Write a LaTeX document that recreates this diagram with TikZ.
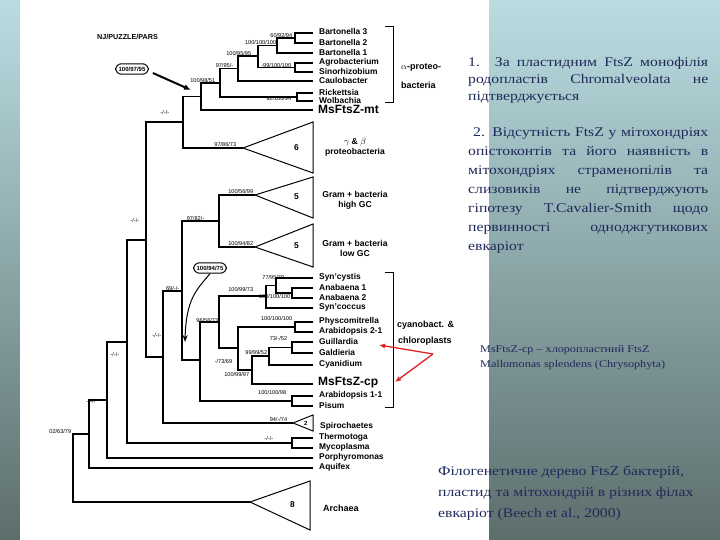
\documentclass[tikz,border=0pt]{standalone}
\usepackage{fontspec}
\setmainfont{Liberation Serif}[FakeStretch=1.18]
\setsansfont{Liberation Sans}
\usetikzlibrary{arrows.meta}
\definecolor{bgtop}{HTML}{BADDE2}
\definecolor{bgbot}{HTML}{5C6E6C}
\definecolor{navy}{HTML}{1F2A5A}
\definecolor{arred}{HTML}{E02020}
\newcommand{\fl}[1]{\makebox[240pt][s]{#1}}
\begin{document}
\begin{tikzpicture}[x=1pt,y=-1pt,
  br/.style={line width=1.3pt,black},
  lf/.style={font=\sffamily\bfseries\fontsize{8.4}{9}\selectfont,anchor=west,inner sep=0pt},
  gl/.style={font=\sffamily\bfseries\fontsize{8.6}{10}\selectfont,anchor=center,align=center,inner sep=0pt},
  sv/.style={font=\sffamily\fontsize{5.6}{6}\selectfont,inner sep=0.6pt,anchor=south east},
  tx/.style={text=navy,font=\fontsize{13.3}{17}\selectfont,anchor=north west,inner sep=0pt,align=left},
  oval/.style={draw,line width=1pt,rounded corners=6pt,font=\sffamily\bfseries\fontsize{6}{6}\selectfont,inner sep=3pt}]
\useasboundingbox (0,0) rectangle (720,540);
\shade[top color=bgtop,bottom color=bgbot] (0,0) rectangle (720,540);
\fill[white] (20,0) rectangle (489,540);
% ---------- internal nodes
\coordinate (root) at (73,468);
\coordinate (n89) at (89,434);
\coordinate (n107) at (107,400);
\coordinate (n127) at (127,342);
\coordinate (n146) at (146,240);
\coordinate (n183) at (183,122);
\coordinate (n201) at (201,96.5);
\coordinate (n220) at (220,83);
\coordinate (n238) at (238,68.5);
\coordinate (n258) at (258,56);
\coordinate (n277) at (277,45.5);
\coordinate (n295a) at (295,38);
\coordinate (n295b) at (295,67.5);
\coordinate (n297) at (297,97);
\coordinate (n163) at (163,357);
\coordinate (n182) at (182,291);
\coordinate (n219g) at (219,221);
\coordinate (n200) at (200,360);
\coordinate (n219c) at (219,322);
\coordinate (n266) at (266,296);
\coordinate (n276) at (276,285.5);
\coordinate (n292s) at (292,293);
\coordinate (n238c) at (238,348);
\coordinate (n295p) at (295,327);
\coordinate (n252) at (252,370);
\coordinate (n269) at (269,356);
\coordinate (n292g) at (292,347.5);
\coordinate (n292a) at (292,401);
\coordinate (n292t) at (292,443);
% apices
\coordinate (t6) at (243,148);
\coordinate (t5a) at (255,195);
\coordinate (t5b) at (255,247);
\coordinate (t2) at (293,423);
\coordinate (t8) at (250,502);
% leaves
\foreach \n/\y in {bart3/33,bart2/43,bart1/53,agro/63,sino/72,caulo/81,rick/93,wolb/101,msmt/110,
  syncy/278,anab1/288,anab2/298,synco/308,phys/322,arab21/332,guil/342,gald/353,cyan/365,mscp/384,
  arab11/396,pisum/406,thermo/438,myco/448,porph/458,aqui/468}
  \coordinate (\n) at (313,\y);
% ---------- branches
\draw[br] (root) |- (n89); \draw[br] (root) |- (t8);
\draw[br] (n89) |- (n107); \draw[br] (n89) |- (aqui);
\draw[br] (n107) |- (n127); \draw[br] (n107) |- (porph);
\draw[br] (n127) |- (n146); \draw[br] (n127) |- (n292t);
\draw[br] (n292t) |- (thermo); \draw[br] (n292t) |- (myco);
\draw[br] (n146) |- (n183); \draw[br] (n146) |- (n163);
\draw[br] (n183) |- (n201); \draw[br] (n183) |- (t6);
\draw[br] (n201) |- (n220); \draw[br] (n201) |- (msmt);
\draw[br] (n220) |- (n238); \draw[br] (n220) |- (n297);
\draw[br] (n297) |- (rick); \draw[br] (n297) |- (wolb);
\draw[br] (n238) |- (n258); \draw[br] (n238) |- (caulo);
\draw[br] (n258) |- (n277); \draw[br] (n258) |- (n295b);
\draw[br] (n295b) |- (agro); \draw[br] (n295b) |- (sino);
\draw[br] (n277) |- (n295a); \draw[br] (n277) |- (bart1);
\draw[br] (n295a) |- (bart3); \draw[br] (n295a) |- (bart2);
\draw[br] (n163) |- (n182); \draw[br] (n163) |- (t2);
\draw[br] (n182) |- (n219g); \draw[br] (n182) |- (n200);
\draw[br] (n219g) |- (t5a); \draw[br] (n219g) |- (t5b);
\draw[br] (n200) |- (n219c); \draw[br] (n200) |- (n292a);
\draw[br] (n292a) |- (arab11); \draw[br] (n292a) |- (pisum);
\draw[br] (n219c) |- (n266); \draw[br] (n219c) |- (n238c);
\draw[br] (n266) |- (n276); \draw[br] (n266) |- (synco);
\draw[br] (n276) |- (syncy); \draw[br] (n276) |- (n292s);
\draw[br] (n292s) |- (anab1); \draw[br] (n292s) |- (anab2);
\draw[br] (n238c) |- (n295p); \draw[br] (n238c) |- (n252);
\draw[br] (n295p) |- (phys); \draw[br] (n295p) |- (arab21);
\draw[br] (n252) |- (n269); \draw[br] (n252) |- (mscp);
\draw[br] (n269) |- (n292g); \draw[br] (n269) |- (cyan);
\draw[br] (n292g) |- (guil); \draw[br] (n292g) |- (gald);
% triangles
\draw[line width=1pt] (t6) -- (313,122) -- (313,173) -- cycle;
\draw[line width=1pt] (t5a) -- (313,177) -- (313,218) -- cycle;
\draw[line width=1pt] (t5b) -- (313,224) -- (313,267) -- cycle;
\draw[line width=1pt] (t2) -- (313,415) -- (313,431) -- cycle;
\draw[line width=1pt] (t8) -- (310,481) -- (310,530) -- cycle;
\node[lf] (c6) at (294,148) {6};
\node[lf] (c5a) at (294,197) {5};
\node[lf] (c5b) at (294,246) {5};
\node[lf,font=\sffamily\bfseries\fontsize{6}{6}\selectfont] (c2) at (304,423) {2};
\node[lf] (c8) at (290,505) {8};
% leaf labels
\foreach \n/\t in {bart3/Bartonella 3,bart2/Bartonella 2,bart1/Bartonella 1,agro/Agrobacterium,
  sino/Sinorhizobium,caulo/Caulobacter,rick/Rickettsia,wolb/Wolbachia,
  syncy/Syn'cystis,anab1/Anabaena 1,anab2/Anabaena 2,synco/Syn'coccus,phys/Physcomitrella,
  arab21/Arabidopsis 2-1,guil/Guillardia,gald/Galdieria,cyan/Cyanidium,arab11/Arabidopsis 1-1,
  pisum/Pisum,thermo/Thermotoga,myco/Mycoplasma,porph/Porphyromonas,aqui/Aquifex}
  \node[lf] (L\n) at ([xshift=6pt,yshift=1pt]\n) {\t};
\node[lf,font=\sffamily\bfseries\fontsize{12}{12}\selectfont] (Lmsmt) at ([xshift=5pt,yshift=1pt]msmt) {MsFtsZ-mt};
\node[lf,font=\sffamily\bfseries\fontsize{12}{12}\selectfont] (Lmscp) at ([xshift=5pt,yshift=1pt]mscp) {MsFtsZ-cp};
\node[lf] (Lspiro) at (320,426) {Spirochaetes};
\node[lf,font=\sffamily\bfseries\fontsize{9}{9}\selectfont] (Larch) at (323,508) {Archaea};
\node[gl] (Lgb) at (355,147) {$\gamma$ \& $\beta$\\proteobacteria};
\node[gl] (Lhg) at (355,200) {Gram + bacteria\\high GC};
\node[gl] (Llg) at (355,248) {Gram + bacteria\\low GC};
% brackets
\draw[line width=0.9pt] (385,26) -- (393,26) -- (393,102) -- (385,102);
\node[lf,font=\sffamily\bfseries\fontsize{9}{9}\selectfont] (Lalpha) at (401,68) {$\alpha$-proteo-};
\node[lf,font=\sffamily\bfseries\fontsize{9}{9}\selectfont] (Lalpha2) at (401,85) {bacteria};
\draw[line width=0.9pt] (385,272) -- (393,272) -- (393,407) -- (385,407);
\node[lf,font=\sffamily\bfseries\fontsize{9}{9}\selectfont] (Lcy) at (397,325) {cyanobact. \&};
\node[lf,font=\sffamily\bfseries\fontsize{9}{9}\selectfont] (Lcy2) at (398,341) {chloroplasts};
% support values
\node[sv] at ([xshift=-2pt]n295a) {60/92/94};
\node[sv] at ([xshift=0pt]n277) {100/100/100};
\node[sv] at ([xshift=-6pt]n258) {100/95/95};
\node[sv] at ([xshift=-4pt]n238) {97/95/-};
\node[sv] at ([xshift=-3pt,yshift=-1pt]n295b) {-99/100/100};
\node[sv] at ([xshift=-4pt]n220) {100/98/51};
\node[sv] at ([xshift=-5pt,yshift=-4pt]n297) {92/100/94};
\node[sv] at (170,115) {-/-/-};
\node[sv] at (237,147) {97/86/73};
\node[sv] at (254,194) {100/56/99};
\node[sv] at (205,221) {97/82/-};
\node[sv] at (254,246) {100/94/82};
\node[sv] at (140,223) {-/-/-};
\node[sv] at (180,291) {69/-/-};
\node[sv] at (162,338) {-/-/-};
\node[sv] at (120,357) {-/-/-};
\node[sv] at (96,404) {-/-/-};
\node[sv] at (72,434) {02/63/79};
\node[sv] at (274,441) {-/-/-};
\node[sv] at (288,422) {94/-/74};
\node[sv] at (287,395) {100/100/98};
\node[sv] at (285,280) {77/95/79};
\node[sv] at (291,299) {100/100/100};
\node[sv] at (254,292) {100/99/73};
\node[sv] at (219,323) {96/56/73};
\node[sv] at (293,321) {100/100/100};
\node[sv] at (288,341) {73/-/52};
\node[sv] at (268,355) {99/99/52};
\node[sv] at (233,364) {-/73/69};
\node[sv] at (250,377) {100/99/97};
% title, ovals and arrows
\node[lf,font=\sffamily\bfseries\fontsize{7.2}{7}\selectfont] (title) at (97,37) {NJ/PUZZLE/PARS};
\node[oval] (o1) at (132,69) {100/97/95};
\node[oval] (o2) at (210,268) {100/94/75};
\draw[line width=2pt,-{Latex[length=7pt,width=6pt]}] (o1.east) ++(4,4) coordinate (a1) -- (191,90);
\draw[line width=1pt,-{Stealth[length=7pt,width=5pt]}] (o2.south) .. controls (196,290) and (186,300) .. (185,342);
\coordinate (rr) at (433,354);
\draw[arred,line width=1.3pt,-{Latex[length=6pt,width=5pt]}] (rr) -- (379,345);
\draw[arred,line width=1.3pt,-{Latex[length=6pt,width=5pt]}] (rr) -- (395,382);
% right texts
\node[tx] (t1) at (468,57) {\fl{1. За пластидним FtsZ монофілія}\\\fl{родопластів Chromalveolata не}\\підтверджується};
\node[tx,font=\fontsize{13.3}{19}\selectfont] (t2x) at (468,127) {\hspace*{5pt}\makebox[235pt][s]{2. Відсутність FtsZ у мітохондріях}\\\fl{опістоконтів та його наявність в}\\\fl{мітохондріях страменопілів та}\\\fl{слизовиків не підтверджують}\\\fl{гіпотезу T.Cavalier-Smith щодо}\\\fl{первинності одноджгутикових}\\евкаріот};
\node[tx,font=\fontsize{10.3}{15.5}\selectfont] (t3) at (480,345) {MsFtsZ-cp – хлоропластний FtsZ\\Mallomonas splendens (Chrysophyta)};
\node[tx,font=\fontsize{13.3}{21}\selectfont] (t4) at (438,466) {Філогенетичне дерево FtsZ бактерій,\\пластид та мітохондрій в різних філах\\евкаріот (Beech et al., 2000)};
\end{tikzpicture}
\end{document}
